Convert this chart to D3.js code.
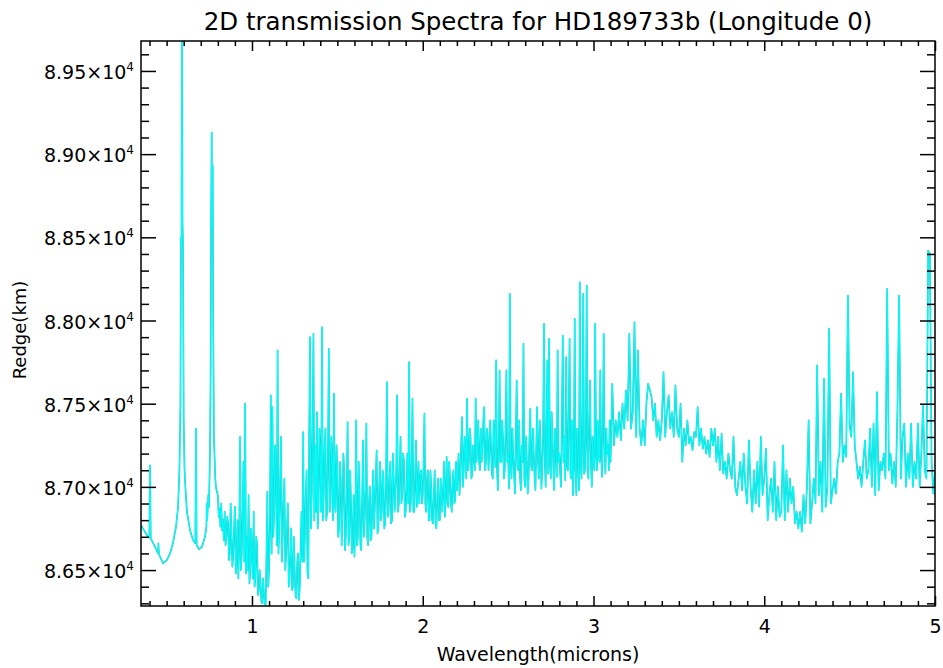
<!DOCTYPE html>
<html>
<head>
<meta charset="utf-8">
<script src="https://cdn.jsdelivr.net/npm/d3@7"></script>
<style>
body{margin:0;background:#fff}
text{font-family:"DejaVu Sans",sans-serif;fill:#000}
</style>
</head>
<body>
<svg width="943" height="668"></svg>
<script>
// smooth optical part (Na / K lines)
var smoothWave = [0.350,0.373,0.391,0.399,0.403,0.407,0.432,0.450,0.452,0.455,0.479,0.502,0.520,0.537,0.555,0.567,0.575,0.581,0.584,0.587,0.590,0.593,0.596,0.600,0.605,0.611,0.619,0.637,0.655,0.668,0.672,0.676,0.690,0.707,0.725,0.733,0.735,0.738,0.744,0.748,0.754,0.758,0.760,0.764,0.767,0.770,0.773,0.777,0.785,0.790];
var smoothRadius = [86770,86730,86700,86695,87130,86690,86640,86600,86660,86595,86540,86560,86600,86660,86760,86880,87100,87500,88500,88450,89800,88600,88450,87400,87100,86980,86850,86740,86680,86660,87350,86650,86625,86640,86700,86760,86900,86800,86950,86880,87200,87700,88500,89130,88550,88930,88000,87300,87050,86990];

// dense noisy part, every 0.005 micron from 0.80 to 3.10
var denseStart = 0.80, denseStep = 0.005;
var denseRadius = [
 86950,86820,86870,86760,86900,86740,86800,86680,86850,86650,86700,86820,86780,86560,86600,86900,86720,86520,86580,86750, // 0.8
 86880,86480,86550,86800,86450,86650,87300,86500,86600,86850,87150,86550,87500,86480,86700,86500,86950,86420,86500,86750, // 0.9
 86600,86450,86850,86400,86450,86700,86650,86350,86380,86500,86420,86310,86300,86450,86360,86290,86290,86600,86970,86400, // 1.0
 86500,86800,87550,86600,87480,86700,86850,87250,87100,86650,87820,86600,86750,87050,87300,86550,86700,86950,87050,86500, // 1.1
 86600,86750,86900,86400,86450,86600,86750,86380,86400,86700,86500,86350,86330,86550,86600,86320,86400,86650,86850,86550, // 1.2
 87330,86550,86700,86950,87100,86480,86450,87300,87900,86750,86950,87400,87920,86800,87250,86850,87450,86750,86900,87350, // 1.3
 87200,86850,87960,86800,86950,87250,87350,86800,86850,87200,87830,86850,86900,87300,87150,86800,87560,86900,86850,87250, // 1.4
 87100,86700,86750,87150,87050,86650,86820,87200,87100,86620,86720,87000,87390,86650,86700,87100,86900,86600,86650,86950, // 1.5
 86580,86800,87400,86650,86700,87150,86950,86650,86620,86900,87280,86700,86800,87000,87380,86700,86650,86900,87000,86680, // 1.6
 86700,86950,87100,86750,86900,87050,87220,86720,86750,87000,87150,86800,86850,87100,87050,86750,86780,87000,87630,86820, // 1.7
 86850,87050,87150,86780,86800,87200,87050,86850,86950,87100,87550,86850,86900,87100,87300,86900,86950,87200,87150,86820, // 1.8
 86850,87000,87200,86900,87750,86850,86900,87150,87530,86850,86850,87050,87280,86880,87000,87150,86900,87050,87100,86900, // 1.9
 86950,87150,87440,86900,86850,87050,87100,86800,86800,87100,87000,86800,86780,86950,87100,86780,86750,86950,87050,86800, // 2.0
 86800,87050,86950,86850,87000,87150,86820,86950,87180,86900,86880,87150,87050,86900,86850,87050,87100,86900,86920,87150, // 2.1
 86980,87100,87200,86950,87050,87250,87420,87000,87100,87300,87250,87050,87530,87100,87150,87350,87300,87050,87080,87250, // 2.2
 87200,87100,87530,87150,87250,87400,87150,87100,87350,87150,87200,87400,87480,87100,87150,87350,87320,87100,87200,87400, // 2.3
 87250,87080,87050,87400,87300,87120,87760,87100,86980,87250,87700,87150,87150,87400,87300,87050,87100,87350,87700,87150, // 2.4
 87200,86990,88160,87150,87050,87350,87200,87080,86960,87300,87640,87120,87100,87400,87050,86980,87250,87150,87860,87050, // 2.5
 87000,87300,87150,86960,87050,87300,87470,87120,87100,87350,87200,87060,86980,87250,87480,87150,87050,87400,87250,86990, // 2.6
 87100,87300,87980,87150,87000,87400,87760,87080,87890,87150,87050,87450,87300,87120,86980,87350,87250,87060,87820,87150, // 2.7
 87200,87080,87000,87400,87910,87150,87300,87040,87780,87120,87100,87450,87890,87080,87050,87400,86950,87150,88010,87100, // 2.8
 86950,87350,87200,86980,88230,87150,87050,87400,88160,87080,87100,87300,88210,87130,87050,87400,87640,87150,87000,87300, // 2.9
 87150,87100,87980,87200,87100,87400,87200,87150,87700,87180,87060,87350,87920,87200,87080,87350,87200,87250,87100,87400, // 3.0
 87150
];

// quieter part, every 0.01 micron from 3.11 to 5.00
var coarseStart = 3.11, coarseStep = 0.01;
var coarseRadius = [
 87620,87250,87400,87300,87450,87280,87500,87350,87580, // 3.11
 87400,87920,87350,87450,87990,87300,87820,87350,87250,87400, // 3.2
 87250,87500,87620,87580,87540,87400,87500,87300,87400,87280, // 3.3
 87400,87690,87300,87450,87550,87350,87450,87300,87610,87350, // 3.4
 87300,87500,87150,87350,87250,87400,87260,87300,87220,87330, // 3.5
 87300,87480,87250,87350,87230,87300,87200,87280,87180,87350, // 3.6
 87250,87350,87150,87300,87100,87320,87080,87150,87050,87200, // 3.7
 87100,87050,87300,87000,86950,87050,87150,86980,87200,87000, // 3.8
 86900,87280,87000,86850,87100,86900,87150,86880,87300,86950, // 3.9
 87050,87230,86800,86950,87050,86850,87150,86800,87000,86820, // 4.0
 86850,87250,86800,87100,86850,87050,86900,87000,86780,86850, // 4.1
 86750,86850,86730,86950,86780,87000,87400,86780,86900,87050, // 4.2
 86900,87730,86950,87150,86850,87650,86880,87000,87950,86900, // 4.3
 86980,87050,86960,87150,87200,87560,87150,87250,87180,88150, // 4.4
 87370,87300,87690,87250,87150,87050,87120,87000,87150,87280, // 4.5
 87050,87100,87350,87000,87380,86950,87570,86980,87150,87100, // 4.6
 87200,87050,88190,87100,87200,87020,87150,87000,87460,88150, // 4.7
 87050,87300,87380,87000,87200,87050,87380,87000,87150,87050, // 4.8
 87380,87000,87200,87490,87100,87050,88420,88400,87150,86960, // 4.9
 87100
];

var xMajorTicks = [1, 2, 3, 4, 5];
var xTickLabels = ["1", "2", "3", "4", "5"];
var yMajorTicks = [86500, 87000, 87500, 88000, 88500, 89000, 89500];
var yTickLabels = ["8.65", "8.70", "8.75", "8.80", "8.85", "8.90", "8.95"];

var pL = 141, pR = 935, pT = 41, pB = 606;
var svg = d3.select("svg");

var x = d3.scaleLinear().domain([0.35, 5.0]).range([pL, pR]);
var y = d3.scaleLinear().domain([86284, 89680]).range([pB, pT]);

var data = [];
smoothWave.forEach(function(w, i){ data.push([w, smoothRadius[i]]); });
denseRadius.forEach(function(r, i){ data.push([denseStart + i*denseStep, r]); });
coarseRadius.forEach(function(r, i){ data.push([coarseStart + i*coarseStep, r]); });

svg.append("clipPath").attr("id", "plotclip")
  .append("rect").attr("x", pL).attr("y", pT).attr("width", pR-pL).attr("height", pB-pT);

var line = d3.line().x(function(d){ return x(d[0]); }).y(function(d){ return y(d[1]); });

var g = svg.append("g").attr("clip-path", "url(#plotclip)");
g.append("path").datum(data)
  .attr("d", line).attr("fill", "none")
  .attr("stroke", "#2cc6c6").attr("stroke-width", 1.7).attr("stroke-linejoin", "round");
g.append("path").datum(data)
  .attr("d", line).attr("fill", "none")
  .attr("stroke", "#00ffff").attr("stroke-width", 1.0).attr("stroke-linejoin", "round");

// minor tick positions
var xMinor = d3.range(4, 50).map(function(v){ return v/10; }).filter(function(v){ return Math.abs(v - Math.round(v)) > 1e-6; });
var yMinor = d3.range(863, 897).map(function(v){ return v*100; }).filter(function(v){ return v % 500 != 0; });

function styleAxis(sel){
  sel.select(".domain").remove();
  sel.selectAll("line").attr("stroke", "#000").attr("stroke-width", 1.5);
}

// bottom / top
svg.append("g").attr("transform", "translate(0," + pB + ")")
  .call(d3.axisBottom(x).tickValues(xMajorTicks).tickSizeInner(-10).tickSizeOuter(0).tickPadding(14)
        .tickFormat(function(d, i){ return xTickLabels[i]; }))
  .call(styleAxis)
  .selectAll("text").attr("font-size", 19).attr("font-family", "DejaVu Sans").attr("fill", "#000");
svg.append("g").attr("transform", "translate(0," + pB + ")")
  .call(d3.axisBottom(x).tickValues(xMinor).tickSizeInner(-5).tickSizeOuter(0).tickFormat(""))
  .call(styleAxis);
svg.append("g").attr("transform", "translate(0," + pT + ")")
  .call(d3.axisTop(x).tickValues(xMajorTicks).tickSizeInner(-10).tickSizeOuter(0).tickFormat(""))
  .call(styleAxis);
svg.append("g").attr("transform", "translate(0," + pT + ")")
  .call(d3.axisTop(x).tickValues(xMinor).tickSizeInner(-5).tickSizeOuter(0).tickFormat(""))
  .call(styleAxis);

// left / right
svg.append("g").attr("transform", "translate(" + pL + ",0)")
  .call(d3.axisLeft(y).tickValues(yMajorTicks).tickSizeInner(-15).tickSizeOuter(0).tickFormat(""))
  .call(styleAxis);
svg.append("g").attr("transform", "translate(" + pL + ",0)")
  .call(d3.axisLeft(y).tickValues(yMinor).tickSizeInner(-8).tickSizeOuter(0).tickFormat(""))
  .call(styleAxis);
svg.append("g").attr("transform", "translate(" + pR + ",0)")
  .call(d3.axisRight(y).tickValues(yMajorTicks).tickSizeInner(-15).tickSizeOuter(0).tickFormat(""))
  .call(styleAxis);
svg.append("g").attr("transform", "translate(" + pR + ",0)")
  .call(d3.axisRight(y).tickValues(yMinor).tickSizeInner(-8).tickSizeOuter(0).tickFormat(""))
  .call(styleAxis);

// y tick labels with power of ten
yMajorTicks.forEach(function(v, i){
  var t = svg.append("text")
    .attr("x", 134).attr("y", y(v) + 8)
    .attr("text-anchor", "end").attr("font-size", 19);
  t.append("tspan").text(yTickLabels[i] + "\u00d710");
  t.append("tspan").attr("dy", -8).attr("font-size", 12).text("4");
});

// frame
svg.append("rect").attr("x", pL).attr("y", pT).attr("width", pR-pL).attr("height", pB-pT)
  .attr("fill", "none").attr("stroke", "#000").attr("stroke-width", 1.5);

svg.append("text").attr("x", (pL+pR)/2).attr("y", 30)
  .attr("text-anchor", "middle").attr("font-size", 24.5)
  .text("2D transmission Spectra for HD189733b (Longitude 0)");
svg.append("text").attr("x", (pL+pR)/2).attr("y", 661)
  .attr("text-anchor", "middle").attr("font-size", 19)
  .text("Wavelength(microns)");
svg.append("text").attr("transform", "translate(26,330) rotate(-90)")
  .attr("text-anchor", "middle").attr("font-size", 18)
  .text("Redge(km)");
</script>
</body>
</html>
